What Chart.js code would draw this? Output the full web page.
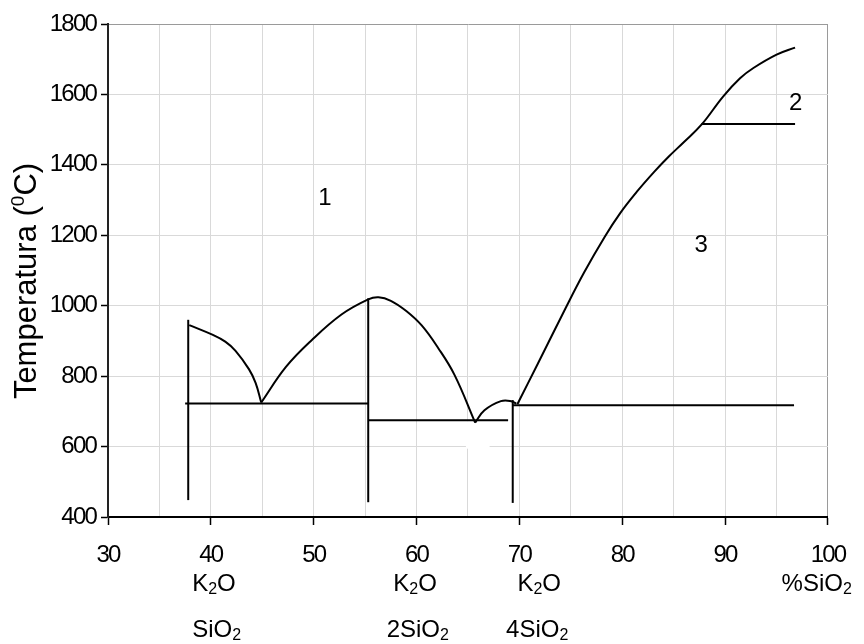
<!DOCTYPE html>
<html><head><meta charset="utf-8">
<script src="https://cdn.jsdelivr.net/npm/chart.js@4/dist/chart.umd.min.js"></script>
<style>html,body{margin:0;padding:0;background:#fff}canvas{display:block}</style>
</head><body>
<canvas id="c" width="864" height="644"></canvas>
<script>
// ---- data (x = %SiO2, y = temperature °C) ----
const curveA_x = [37.9, 40.2, 41.4, 42.4, 43.7, 44.35, 44.9];
const curveA_y = [945, 917, 898, 872, 820, 781, 725];
const curveB_x = [44.9, 47.3, 49.8, 52.7, 55.3, 56.3, 57.5, 59.0, 60.5, 62.1, 63.7, 65.7];
const curveB_y = [725, 826, 902, 975, 1018, 1024, 1014, 985, 944, 880, 803, 668];
const curveC_x = [65.7, 66.6, 68.2, 69.2, 69.7];
const curveC_y = [668, 703, 729, 729, 722];
const curveD_x = [69.8, 71.8, 74.4, 76.3, 78.3, 79.8, 81.4, 83.1, 84.5, 86.0, 87.7, 89.8, 91.45, 92.75, 95.0, 96.8];
const curveD_y = [720, 836, 988, 1095, 1196, 1263, 1323, 1380, 1423, 1465, 1514, 1594, 1646, 1675, 1713, 1733];

const verticalX      = [37.8, 55.3, 69.35];
const verticalBottom = [448, 442, 440];
const verticalTop    = [960, 1021, 732];

const horizontalY    = [722, 675, 717, 1516];
const horizontalFrom = [37.5, 55.3, 69.3, 87.7];
const horizontalTo   = [55.3, 68.9, 96.7, 96.8];

const regionNames = ['1', '2', '3'];
const regionX     = [51.1, 96.85, 87.67];
const regionY     = [1306, 1575, 1170];

const compoundTop    = ['K₂O', 'K₂O', 'K₂O', '%SiO₂'];
const compoundBottom = ['SiO₂', '2SiO₂', '4SiO₂', ''];

const xMin = 30, xMax = 100, xStep = 5;
const yMin = 400, yMax = 1800, yStep = 200;
const yTitle = ['Temperatura (', '0', 'C)'];

// ---- build datasets ----
function pts(xs, ys) { return xs.map((x, i) => ({x: x, y: ys[i]})); }
const lineStyle = {borderColor: '#000', borderWidth: 2, pointRadius: 0, showLine: true, fill: false};
const datasets = [];
[[curveA_x, curveA_y], [curveB_x, curveB_y], [curveC_x, curveC_y], [curveD_x, curveD_y]].forEach(c => {
  datasets.push(Object.assign({data: pts(c[0], c[1]), tension: 0.4}, lineStyle));
});
verticalX.forEach((x, i) => {
  datasets.push(Object.assign({data: [{x: x, y: verticalBottom[i]}, {x: x, y: verticalTop[i]}], tension: 0}, lineStyle));
});
horizontalY.forEach((y, i) => {
  datasets.push(Object.assign({data: [{x: horizontalFrom[i], y: y}, {x: horizontalTo[i], y: y}], tension: 0}, lineStyle));
});

const FONT = '"Liberation Sans", Arial, sans-serif';

function drawChem(ctx, text, x, baseline, size) {
  let cx = x;
  for (const ch of text) {
    if (ch === '₂') {
      ctx.font = Math.round(size * 0.66) + 'px ' + FONT;
      ctx.fillText('2', cx, baseline + 3);
      cx += ctx.measureText('2').width;
    } else {
      ctx.font = size + 'px ' + FONT;
      ctx.fillText(ch, cx, baseline);
      cx += ctx.measureText(ch).width;
    }
  }
}

const decor = {
  id: 'decor',
  beforeDraw(chart) { chart.ctx.letterSpacing = '-1.8px'; },
  beforeDatasetsDraw(chart) {
    const ctx = chart.ctx, xs = chart.scales.x, ys = chart.scales.y;
    // white blank box over the grid (as in reference)
    ctx.save();
    ctx.fillStyle = '#fff';
    const l = xs.getPixelForValue(64.8), r = xs.getPixelForValue(67.1);
    const t = ys.getPixelForValue(672), b = ys.getPixelForValue(594);
    ctx.fillRect(l, t, r - l, b - t);
    ctx.restore();
  },
  afterDraw(chart) {
    const ctx = chart.ctx, xs = chart.scales.x, ys = chart.scales.y;
    ctx.save();
    ctx.letterSpacing = '0px';
    ctx.fillStyle = '#000';
    // region labels
    ctx.font = '24px ' + FONT;
    ctx.textAlign = 'center';
    ctx.textBaseline = 'middle';
    regionNames.forEach((n, i) => ctx.fillText(n, xs.getPixelForValue(regionX[i]), ys.getPixelForValue(regionY[i])));
    // compound labels under the axis
    ctx.textAlign = 'left';
    ctx.textBaseline = 'alphabetic';
    const topLeft = [38.18, 57.74, 69.81, 95.49];
    const botLeft = [38.18, 57.09, 68.7, 0];
    const row1 = chart.chartArea.bottom + 74, row2 = chart.chartArea.bottom + 120;
    compoundTop.forEach((t, i) => drawChem(ctx, t, xs.getPixelForValue(topLeft[i]), row1, 24));
    compoundBottom.forEach((t, i) => { if (t) drawChem(ctx, t, xs.getPixelForValue(botLeft[i]), row2, 24); });
    // y axis title (rotated)
    ctx.translate(25, 281);
    ctx.rotate(-Math.PI / 2);
    const big = '31px ' + FONT, small = '19px ' + FONT;
    ctx.font = big; const w1 = ctx.measureText(yTitle[0]).width, w3 = ctx.measureText(yTitle[2]).width;
    ctx.font = small; const w2 = ctx.measureText(yTitle[1]).width;
    let sx = -(w1 + w2 + w3) / 2;
    const base = 11;
    ctx.font = big; ctx.fillText(yTitle[0], sx, base); sx += w1;
    ctx.font = small; ctx.fillText(yTitle[1], sx, base - 12); sx += w2;
    ctx.font = big; ctx.fillText(yTitle[2], sx, base);
    ctx.restore();
  }
};

Chart.defaults.font.family = FONT;
Chart.defaults.font.size = 24;
Chart.defaults.color = '#000';

new Chart(document.getElementById('c'), {
  type: 'scatter',
  data: {datasets: datasets},
  options: {
    responsive: false,
    animation: false,
    events: [],
    layout: {autoPadding: false, padding: {left: 0, top: 24, right: 32, bottom: 0}},
    plugins: {legend: {display: false}, tooltip: {enabled: false}},
    scales: {
      x: {
        type: 'linear', min: xMin, max: xMax,
        afterFit(s) { s.height = 127; },
        ticks: {
          stepSize: xStep, autoSkip: false, maxRotation: 0, padding: 16,
          font: {size: 24},
          callback: v => (v % 10 === 0 ? String(v) : '')
        },
        grid: {
          color: c => (c.tick && c.tick.value === xMax ? '#9a9a9a' : '#d9d9d9'),
          lineWidth: 1,
          tickLength: 8,
          tickColor: c => (c.tick && c.tick.value % 10 === 0 ? '#000' : 'rgba(0,0,0,0)'),
          tickWidth: 1.5
        },
        border: {color: '#000', width: 2}
      },
      y: {
        type: 'linear', min: yMin, max: yMax,
        afterFit(s) { s.width = 108; },
        ticks: {stepSize: yStep, padding: 5, font: {size: 24}, callback: v => String(v)},
        grid: {
          color: c => (c.tick && c.tick.value === yMax ? '#9a9a9a' : '#d9d9d9'),
          lineWidth: 1,
          tickLength: 7,
          tickColor: '#000',
          tickWidth: 1.5
        },
        border: {color: '#222', width: 2}
      }
    }
  },
  plugins: [decor]
});
</script>
</body></html>
